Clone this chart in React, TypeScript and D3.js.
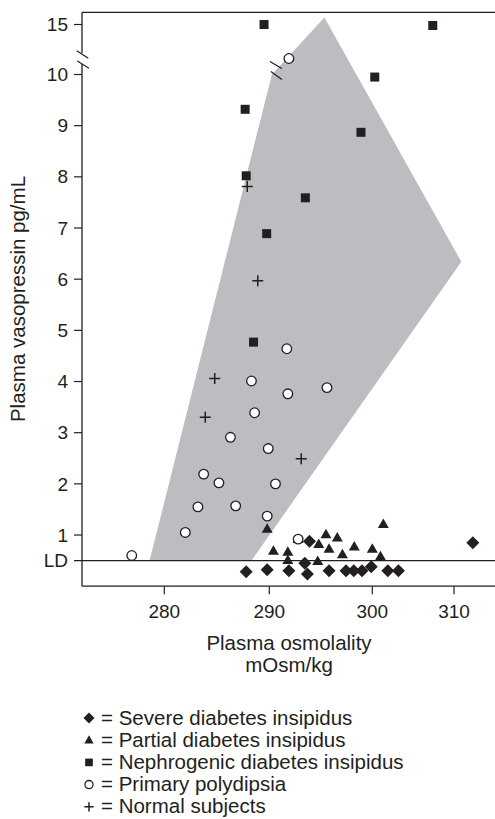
import React from 'react';
import * as d3 from 'd3';

// ---- data ----
const xTicks = [280, 290, 300, 310];
const yTicks = [1, 2, 3, 4, 5, 6, 7, 8, 9, 10, 15];
const LD = 0.5;

const severe: [number, number][] = [
  [287.8, 0.28], [289.8, 0.32], [291.9, 0.3], [293.7, 0.24], [293.45, 0.45], [293.9, 0.88],
  [295.8, 0.3], [297.45, 0.3], [298.2, 0.3], [299.0, 0.3], [299.9, 0.38], [301.9, 0.3],
  [303.2, 0.3], [312.3, 0.85],
];
const partial: [number, number][] = [
  [289.8, 1.12], [292.8, 0.92], [290.4, 0.69], [291.8, 0.67], [291.8, 0.51], [295.5, 1.01],
  [296.6, 0.95], [294.8, 0.82], [295.8, 0.73], [297.1, 0.62], [294.7, 0.49], [298.25, 0.77],
  [300.0, 0.73], [301.35, 1.21], [301.0, 0.58],
];
const nephrogenic: [number, number][] = [
  [289.5, 15], [307.4, 14.9], [300.3, 9.95], [287.7, 9.32], [298.9, 8.87], [287.8, 8.02],
  [293.5, 7.59], [289.75, 6.89], [288.5, 4.77],
];
const polydipsia: [number, number][] = [
  [291.9, 11.6], [291.7, 4.64], [288.3, 4.01], [291.8, 3.76], [295.6, 3.88], [288.6, 3.39],
  [286.3, 2.91], [289.9, 2.69], [283.75, 2.19], [285.2, 2.02], [290.6, 2.0], [283.2, 1.55],
  [286.8, 1.57], [282.0, 1.05], [276.9, 0.6], [289.8, 1.37], [292.8, 0.92],
];
const normal: [number, number][] = [
  [288.9, 5.97], [284.8, 4.06], [283.9, 3.3], [293.1, 2.49], [287.9, 7.81],
];
const region: [number, number][] = [
  [278.6, LD], [290.25, 10], [295.35, 15.7], [310.9, 6.34], [288.3, LD],
];
const legendItems = [
  { sym: 'diamond', label: 'Severe diabetes insipidus' },
  { sym: 'triangle', label: 'Partial diabetes insipidus' },
  { sym: 'square', label: 'Nephrogenic diabetes insipidus' },
  { sym: 'circle', label: 'Primary polydipsia' },
  { sym: 'plus', label: 'Normal subjects' },
];

const W = 495;
const H = 819;
const FONT = "'Liberation Sans', Arial, Helvetica, sans-serif";
const INK = '#231f20';

const x = d3.scaleLinear().domain([280, 290, 300, 310]).range([164.3, 269.3, 372.3, 454]);
const y = d3.scaleLinear().domain([0, 10, 15]).range([586.2, 74.5, 24.5]);

const AX = 82;
const TOP = 12.3;
const BOT = y(0);
const RIGHT = W;

function Marker({ sym, cx, cy, s = 1 }: { sym: string; cx: number; cy: number; s?: number }) {
  if (sym === 'diamond') {
    const r = 6.5 * s;
    return <path d={`M${cx},${cy - r}L${cx + r},${cy}L${cx},${cy + r}L${cx - r},${cy}Z`} fill={INK} />;
  }
  if (sym === 'triangle') {
    const h = 9.5 * s, w = 11 * s;
    return <path d={`M${cx},${cy - h * 0.6}L${cx + w / 2},${cy + h * 0.4}L${cx - w / 2},${cy + h * 0.4}Z`} fill={INK} />;
  }
  if (sym === 'square') {
    const a = 9 * s;
    return <rect x={cx - a / 2} y={cy - a / 2} width={a} height={a} fill={INK} />;
  }
  if (sym === 'circle') {
    return <circle cx={cx} cy={cy} r={4.8 * s} fill="#fff" stroke={INK} strokeWidth={1.3} />;
  }
  const r = 5.5 * s;
  return (
    <path d={`M${cx - r},${cy}H${cx + r}M${cx},${cy - r}V${cy + r}`} stroke={INK} strokeWidth={1.5} fill="none" />
  );
}

export default function App() {
  const poly = d3.line<[number, number]>().x((d) => x(d[0])).y((d) => y(d[1]))(region) + 'Z';
  const bx = x(290.25);
  const by = y(10);
  const series: [string, [number, number][]][] = [
    ['diamond', severe],
    ['triangle', partial],
    ['square', nephrogenic],
    ['circle', polydipsia],
    ['plus', normal],
  ];
  return (
    <svg
      width={W}
      height={H}
      style={{ position: 'absolute', left: 0, top: 0, background: '#fff' }}
      fontFamily={FONT}
    >
      <rect width={W} height={H} fill="#fff" />
      <path d={poly} fill="#bcbdc1" />
      {/* polygon break marks */}
      <path
        d={`M${bx - 2},${by - 13}L${bx + 10},${by - 6}M${bx - 1},${by - 3}L${bx + 10},${by + 5}`}
        stroke={INK}
        strokeWidth={1.2}
      />
      {/* frame */}
      <line x1={AX} x2={RIGHT} y1={TOP} y2={TOP} stroke={INK} strokeWidth={1.3} />
      <line x1={AX} x2={AX} y1={TOP} y2={53} stroke={INK} strokeWidth={1.3} />
      <line x1={AX} x2={AX} y1={64} y2={BOT} stroke={INK} strokeWidth={1.3} />
      <path d={`M76.7,50.7L88.3,58.3M77.3,61L89,68.3`} stroke={INK} strokeWidth={1.2} />
      <line x1={AX} x2={RIGHT} y1={BOT} y2={BOT} stroke={INK} strokeWidth={1.3} />
      {/* LD line */}
      <line x1={74} x2={RIGHT} y1={y(LD)} y2={y(LD)} stroke={INK} strokeWidth={1.3} />
      {/* y ticks */}
      {yTicks.map((t) => (
        <g key={t}>
          <line x1={74} x2={AX} y1={y(t)} y2={y(t)} stroke={INK} strokeWidth={1.2} />
          <text x={68} y={y(t)} dy="0.35em" textAnchor="end" fontSize={19} fill={INK}>
            {t}
          </text>
        </g>
      ))}
      <text x={68} y={y(LD)} dy="0.35em" textAnchor="end" fontSize={19} fill={INK}>
        LD
      </text>
      {/* x ticks */}
      {xTicks.map((t) => (
        <g key={t}>
          <line x1={x(t)} x2={x(t)} y1={BOT} y2={BOT + 8} stroke={INK} strokeWidth={1.2} />
          <text x={x(t)} y={618} textAnchor="middle" fontSize={19} fill={INK}>
            {t}
          </text>
        </g>
      ))}
      <text x={289} y={650} textAnchor="middle" fontSize={20.5} fill={INK}>
        Plasma osmolality
      </text>
      <text x={289} y={672} textAnchor="middle" fontSize={20.5} fill={INK}>
        mOsm/kg
      </text>
      <text
        transform={`translate(25,299) rotate(-90)`}
        textAnchor="middle"
        fontSize={20.5}
        fill={INK}
      >
        Plasma vasopressin pg/mL
      </text>
      {/* points */}
      {series.map(([sym, pts]) =>
        pts.map((p, i) => <Marker key={sym + i} sym={sym} cx={x(p[0])} cy={y(p[1])} />)
      )}
      {/* legend */}
      {legendItems.map((it, i) => {
        const cy = 718 + i * 22.2;
        return (
          <g key={it.sym}>
            <Marker sym={it.sym} cx={89} cy={cy} s={0.85} />
            <text x={101} y={cy + 6.5} fontSize={20.5} fill={INK}>
              {'= ' + it.label}
            </text>
          </g>
        );
      })}
    </svg>
  );
}
